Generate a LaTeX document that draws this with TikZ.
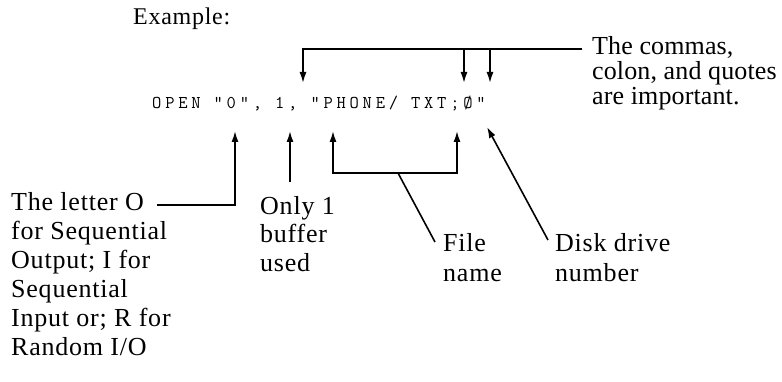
\documentclass[tikz,border=0pt]{standalone}
\usepackage{fontspec}
\setmainfont{Liberation Serif}[LetterSpace=3]
\newfontfamily\cmdfont{Latin Modern Mono}[LetterSpace=21]
\newfontfamily\notefont{Liberation Serif}[LetterSpace=0.5]
\usetikzlibrary{arrows.meta}

\begin{document}
\begin{tikzpicture}[x=1pt,y=-1pt,font=\fontsize{26}{29}\selectfont,
  >={Latex[length=11pt,width=7pt]},
  txt/.style={align=left,anchor=base west,inner sep=0pt},
  cmdtxt/.style={txt,font=\cmdfont\fontsize{18}{18}\selectfont},
  arr/.style={->,line width=1.6pt},
  ln/.style={line width=1.6pt}]
\useasboundingbox[fill=white] (0,0) rectangle (782,382);
% heading and the OPEN statement
\node[txt,font=\fontsize{24}{24}\selectfont] (ex) at (133,25) {Example:};
\node[cmdtxt] (cmd) at (152,109) {OPEN “0”, 1, “PHONE/ TXT;Ø”};
% labels (placed at the baseline of their last line)
\node[txt,font=\notefont\fontsize{26}{25}\selectfont] (commas) at (592,105) {The commas,\\colon, and quotes\\are important.};
\node[txt] (letter) at (11,355) {The letter O\\for Sequential\\Output; I for\\Sequential\\Input or; R for\\Random I/O};
\node[txt] (only) at (260,272) {Only 1\\buffer\\used};
\node[txt,font=\fontsize{26}{30}\selectfont] (file) at (443,282) {File\\name};
\node[txt,font=\fontsize{26}{30}\selectfont] (disk) at (555,282) {Disk drive\\number};
% arrow ends on the statement
\coordinate (q1) at (303,83);
\coordinate (semi) at (464,83);
\coordinate (q2) at (490,83);
\coordinate (zero) at (235,131);
\coordinate (one) at (290,131);
\coordinate (fs) at (333,131);
\coordinate (fe) at (457,131);
\coordinate (drv) at (487,127);
% line ends at the labels
\coordinate (tq) at (582,49);
\coordinate (oend) at (157,205);
\coordinate (onebot) at (290,182);
\coordinate (fb) at (398,173);
\coordinate (fl) at (435,242);
\coordinate (dl) at (548,240);
% connectors
\draw[arr] (tq) -| (q1);
\draw[arr] (tq -| semi) -- (semi);
\draw[arr] (tq -| q2) -- (q2);
\draw[arr] (oend) -| (zero);
\draw[arr] (onebot) -- (one);
\draw[arr] (fb) -| (fs);
\draw[arr] (fb) -| (fe);
\draw[ln] (fb) -- (fl);
\draw[arr] (dl) -- (drv);
\end{tikzpicture}
\end{document}
